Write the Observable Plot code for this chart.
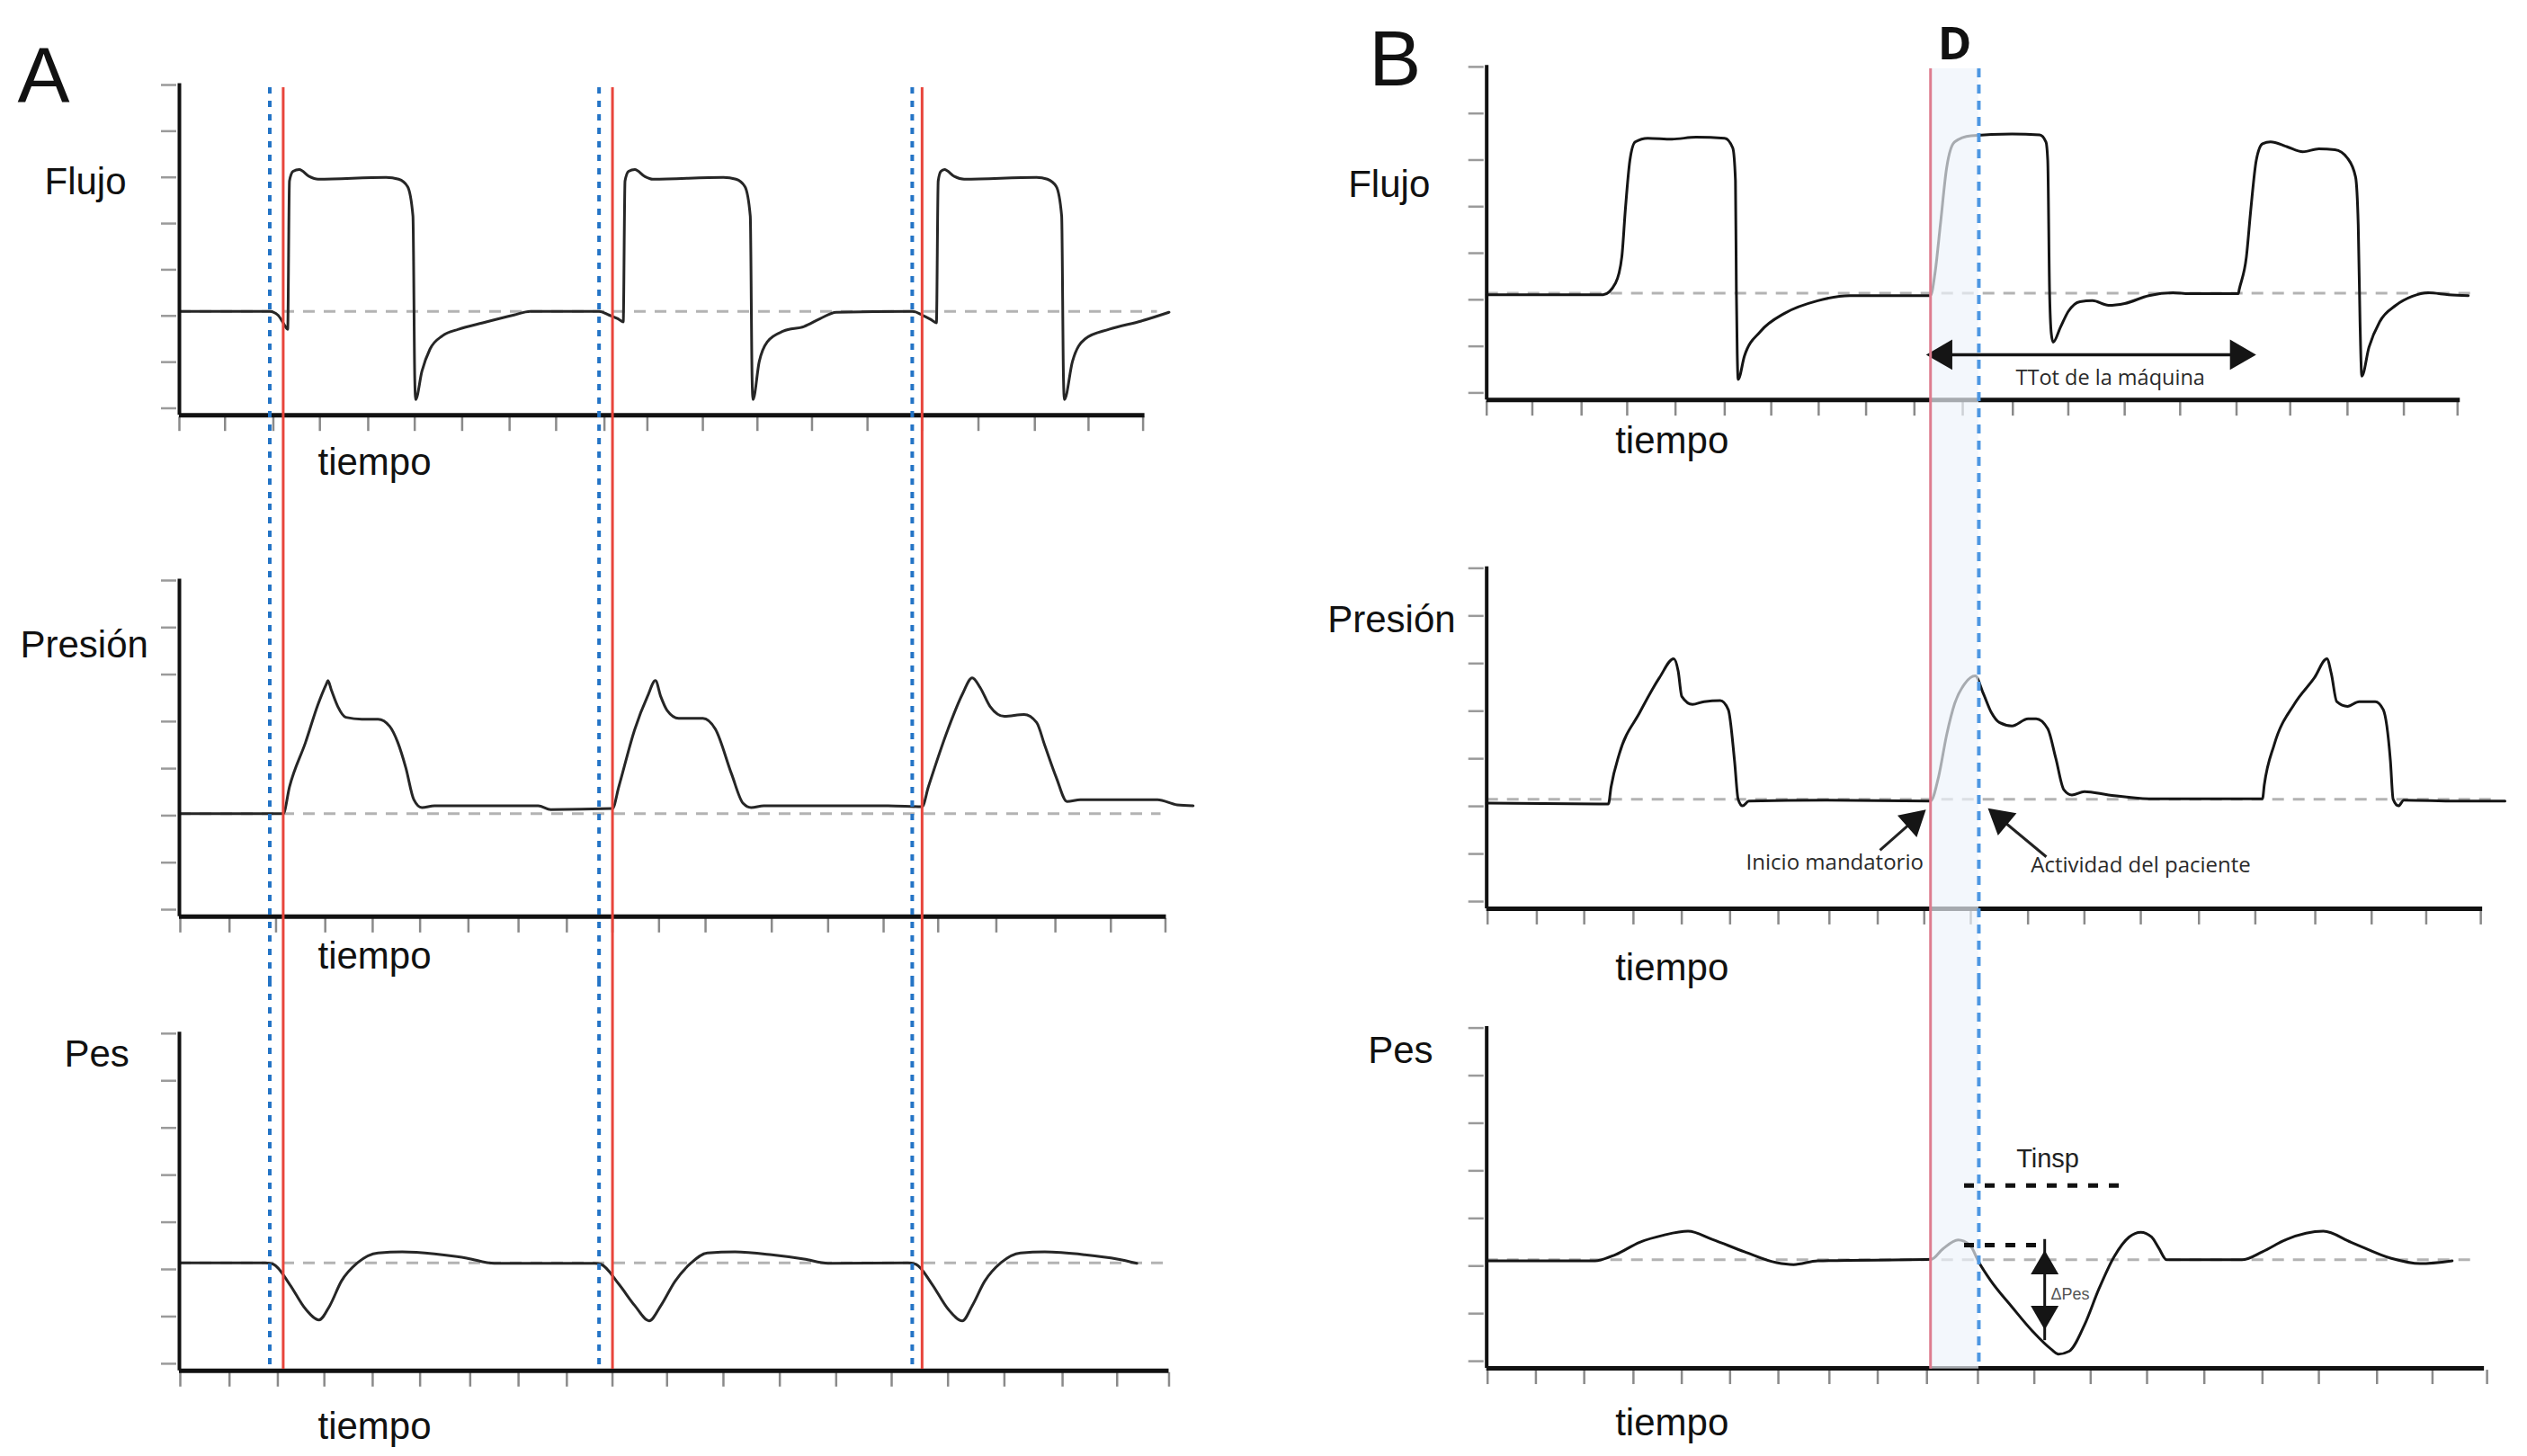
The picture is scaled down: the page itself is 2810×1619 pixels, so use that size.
<!DOCTYPE html>
<html><head><meta charset="utf-8">
<script src="https://cdn.jsdelivr.net/npm/d3@7"></script>
<script src="https://cdn.jsdelivr.net/npm/@observablehq/plot@0.6"></script>
<style>
html,body{margin:0;padding:0;background:#fff;}
#fig{position:relative;width:2810px;height:1619px;background:#fff;overflow:hidden;}
#fig > div{position:absolute;}
#fig svg{display:block;}
</style></head>
<body><div id="fig"></div>
<script>
// ---------- DATA (tiempo en unidades arbitrarias, valores en unidades de trazo) ----------
const yTicks = [0, 10, 20, 30, 40, 50, 60, 70];

// Panel A
const flujoA = [
  [0,21],[101,21],[110,20.2],[116,18.5],[121,17.1],[123,49.2],[127,51.3],[134,51.7],[145,50.2],[155,49.6],[231,50.0],[245,49.6],[255,48.0],[261,41.6],[263,6.6],[264,1.9],[271,8.0],[280,12.8],[294,15.7],[312,17.1],[339,18.5],[374,20.2],[392,21],[469,21],
  [480,20.2],[490,19.4],[496,18.7],[498,49.2],[502,51.3],[509,51.7],[520,50.2],[529,49.6],[608,50.0],[622,49.6],[632,48.0],[638,41.6],[640,6.6],[641,1.9],[648,10.1],[657,14.4],[675,16.7],[698,17.7],[716,19.4],[734,20.8],[819,21],
  [830,20.2],[840,19.2],[846,18.5],[848,49.2],[851,51.3],[855,51.7],[866,50.2],[877,49.6],[958,50.0],[970,49.6],[980,48.0],[986,41.6],[988,6.6],[989,1.9],[998,10.1],[1012,15.0],[1039,17.1],[1075,18.9],[1106,20.8]
];
const presionA = [
  [0,20.4],[116,20.4],[123,26.1],[141,35.6],[155,43.7],[164,47.9],[166,48.7],[170,46.6],[177,43.2],[186,40.9],[204,40.5],[222,40.5],[235,39.0],[244,35.6],[253,30.2],[262,23.4],[271,21.7],[285,22.1],[401,22.1],[415,21.3],[484,21.5],
  [491,26.1],[509,38.4],[523,45.3],[532,48.7],[538,45.3],[545,42.4],[558,40.7],[585,40.7],[599,38.4],[617,28.9],[630,22.6],[639,21.7],[653,22.1],[792,22.1],[830,21.9],
  [837,26.1],[859,38.4],[875,45.8],[886,49.3],[895,47.2],[906,43.2],[922,41.1],[944,41.5],[958,39.8],[967,35.0],[980,28.1],[992,23.0],[1007,23.4],[1093,23.4],[1115,22.3],[1133,22.1]
];
const pesA = [
  [0,21.4],[96,21.4],[105,21.1],[123,16.9],[141,11.6],[156,9.3],[168,12.3],[181,17.5],[199,21.4],[222,23.5],[249,23.7],[285,23.3],[321,22.4],[352,21.3],[464,21.3],
  [471,21.1],[491,16.9],[509,12.3],[525,9.1],[538,12.3],[554,17.5],[572,21.4],[590,23.5],[621,23.7],[662,23.1],[698,22.2],[725,21.3],[814,21.4],
  [823,21.1],[841,16.9],[859,11.6],[875,9.1],[886,12.3],[900,17.5],[918,21.4],[940,23.5],[967,23.7],[1012,23.1],[1048,22.2],[1070,21.3]
];
const esfuerzoA = [101, 469, 819];   // línea azul discontinua
const disparoA = [116, 484, 830];    // línea roja
const ticksFlujoA = [0,51,105,157,211,263,316,369,421,475,523,585,646,707,769,830,893,956,1016,1077];
const ticksPresionA = [1,56,108,163,216,269,323,379,433,484,536,588,662,725,787,848,913,979,1041,1102];
const ticksPesA = [1,56,110,162,216,269,325,379,433,484,545,608,671,734,796,859,922,987,1048,1106];

// Panel B
const flujoB = [
  [0,21.1],[130,21.1],[144,23.6],[151,29.2],[155,39.5],[160,49.9],[166,53.9],[180,54.7],[207,54.5],[234,54.9],[266,54.7],[275,52.6],[278,45.6],[279,22.2],[280,8.4],[281,2.9],[288,7.9],[306,13.2],[333,17.1],[370,19.8],[406,20.9],[496,20.9],
  [501,25.7],[507,36.1],[514,48.3],[523,53.9],[541,55.2],[587,55.6],[618,55.4],[625,53.9],[627,49.9],[629,22.2],[631,12.7],[633,10.9],[641,14.0],[650,17.5],[663,19.6],[677,19.8],[695,18.8],[713,19.2],[740,20.9],[767,21.5],[785,21.3],[840,21.3],
  [841,22.2],[849,29.2],[854,39.5],[860,49.9],[867,53.5],[876,53.9],[894,52.9],[912,51.8],[930,52.4],[948,52.2],[962,50.4],[971,46.4],[974,36.1],[976,15.3],[978,3.6],[986,9.8],[998,15.3],[1016,18.8],[1034,20.7],[1052,21.5],[1075,21.1],[1097,20.9]
];
const presionB = [
  [0,20.7],[136,20.5],[139,24.1],[148,30.9],[171,39.7],[193,47.0],[209,51.0],[214,48.4],[218,43.1],[230,41.4],[243,42.0],[261,42.2],[270,40.3],[277,29.5],[281,21.5],[286,20.1],[293,21.1],[379,21.3],[496,21.1],
  [505,26.2],[514,35.0],[523,41.6],[534,45.7],[546,47.4],[555,43.7],[564,39.7],[573,37.6],[587,36.9],[605,38.4],[614,38.4],[627,36.3],[636,30.1],[645,23.5],[654,22.4],[668,23.1],[695,22.4],[740,21.6],[867,21.6],
  [869,24.5],[880,32.9],[903,41.6],[925,47.0],[939,51.0],[944,47.8],[950,42.0],[962,41.0],[975,42.0],[993,42.0],[1002,40.3],[1010,29.5],[1013,21.5],[1019,20.1],[1025,21.3],[1084,21.1],[1138,21.1]
];
const pesB = [
  [0,21.1],[121,21.1],[144,22.4],[171,25.0],[198,26.5],[225,27.3],[252,25.6],[288,23.0],[324,20.7],[343,20.3],[370,21.1],[496.8,21.4],
  [509.8,23.6],[526.9,25.5],[540,24.4],[550,20.8],[563,17.0],[587,11.4],[610,6.3],[631,2.5],[639,1.5],[651,2.1],[668,7.6],[684,15.1],[701,21.9],[718,26.1],[731,27.1],[743,26.1],[751,23.8],[760,21.3],[844,21.3],
  [867,23.0],[894,25.6],[935,27.3],[966,25.0],[1011,21.6],[1043,20.5],[1079,21.1]
];
const bandaB = {desde: 496, hasta: 550, etiqueta: "D"};
const ticksFlujoB = [0,51,106,157,211,266,318,371,424,478,532,588,650,713,775,838,898,962,1025,1085];
const ticksPresionB = [1,56,109,164,218,272,326,383,437,489,541,605,668,731,796,859,926,989,1050,1111];
const ticksPesB = [1,55,109,164,218,272,326,383,437,492,549,612,675,738,802,867,930,995,1057,1118];

const ttot = {desde: 491, hasta: 860, nivel: 8.2, texto: "TTot de la máquina", tx: 697, ty: 3.2};
const flechasPresion = [
  {texto: "Inicio mandatorio", cola: [439.5, 10.8], punta: [490.8, 19.3], tx: 389, ty: 8.1},
  {texto: "Actividad del paciente", cola: [625.4, 9.4], punta: [560.1, 19.6], tx: 731, ty: 7.5}
];
const tinsp = {texto: "Tinsp", tx: 627, ty: 42.4, linea1: [534, 713, 36.9], linea2: [534, 616, 24.4]};
const deltaPes = {texto: "ΔPes", x: 623.6, arriba: 23.3, abajo: 6.6, tx: 652, ty: 14.0};

// ---------- LAYOUT ----------
const ejeBajo = -1.5;
const cols = {
  A: {left: 0, width: 1400, mL: 199, mR: 106.5},
  B: {left: 1400, width: 1410, mL: 252.7, mR: 62.8}
};
const rows = {
  A: [{top:0,h:560,mT:94,mB:106.5,vTop:3,vBot:-106.5},{top:560,h:530,mT:85,mB:79,vTop:-85,vBot:-79},{top:1090,h:529,mT:58.8,mB:103.1,vTop:-58.8,vBot:-6.1}],
  B: [{top:0,h:560,mT:73.9,mB:123.6,vTop:2,vBot:-123.6},{top:560,h:530,mT:71.4,mB:88,vTop:-71.4,vBot:-88},{top:1090,h:529,mT:52.6,mB:105.9,vTop:-52.6,vBot:-8.6}]
};
const SANS = "'Liberation Sans', Arial, Helvetica, sans-serif";
const HUM = "'Open Sans', 'Noto Sans', sans-serif";
const fig = document.getElementById("fig");

function arrowHead(pt, rot, r, dx, dy) {
  return Plot.dot([pt], {x: d => d[0], y: d => d[1], symbol: "triangle", r, rotate: rot, fill: "#151515", stroke: "none", dx, dy});
}

function panel(col, row, cfg) {
  const C = cols[col], R = rows[col][row];
  const marks = [];
  marks.push(Plot.ruleY([cfg.base], {x1: 0, x2: cfg.baseEnd, stroke: "#b3b3b3", strokeWidth: 3, strokeDasharray: "13,10"}));
  marks.push(Plot.line(cfg.serie, {x: d => d[0], y: d => d[1], curve: "monotone-x", stroke: cfg.lineColor, strokeWidth: 3, strokeLinejoin: "round"}));
  marks.push(Plot.ruleY(yTicks, {y: d => d, x1: 0, x2: 0, insetLeft: -20, insetRight: 3, stroke: "#9a9a9a", strokeWidth: 2.5}));
  marks.push(Plot.ruleX(cfg.ticks, {x: d => d, y1: ejeBajo, y2: ejeBajo, insetTop: 2, insetBottom: -18, stroke: "#8a8a8a", strokeWidth: 2.5}));
  marks.push(Plot.ruleX([0], {y1: ejeBajo, y2: 70.3, stroke: "#111", strokeWidth: 4}));
  marks.push(Plot.ruleY([ejeBajo], {x1: 0, x2: cfg.axisEnd, stroke: "#111", strokeWidth: 5}));
  // labels
  marks.push(Plot.text([cfg.label], {text: d => d, frameAnchor: "top-left", dx: cfg.lx, dy: cfg.ly, textAnchor: "start", lineAnchor: "middle", fontSize: 42, fontFamily: SANS, fill: "#111"}));
  marks.push(Plot.text(["tiempo"], {text: d => d, frameAnchor: "bottom-left", dx: cfg.tx, dy: cfg.ty, textAnchor: "start", lineAnchor: "middle", fontSize: 42, fontFamily: SANS, fill: "#111"}));
  if (cfg.letter) marks.push(Plot.text([cfg.letter], {text: d => d, frameAnchor: "top-left", dx: cfg.letter_dx, dy: cfg.letter_dy, textAnchor: "middle", lineAnchor: "middle", fontSize: 87, fontFamily: SANS, fill: "#111"}));
  if (col === "A") {
    marks.push(Plot.ruleX(disparoA, {x: d => d, stroke: "#e8453c", strokeWidth: 3, insetTop: R.vTop, insetBottom: R.vBot}));
    marks.push(Plot.ruleX(esfuerzoA, {x: d => d, stroke: "#2474c6", strokeWidth: 4, strokeDasharray: "7,8", insetTop: R.vTop, insetBottom: R.vBot}));
  } else {
    marks.push(Plot.rect([bandaB], {x1: d => d.desde, x2: d => d.hasta, fill: "#eef3fb", fillOpacity: 0.68, insetTop: R.vTop, insetBottom: R.vBot}));
    if (cfg.extra) marks.push(...cfg.extra);
    marks.push(Plot.ruleX([bandaB.desde], {x: d => d, stroke: "#de7d8f", strokeWidth: 3, insetTop: R.vTop, insetBottom: R.vBot}));
    marks.push(Plot.ruleX([bandaB.hasta], {x: d => d, stroke: "#4d97e2", strokeWidth: 4, strokeDasharray: "10,8", insetTop: R.vTop, insetBottom: R.vBot}));
  }
  const svg = Plot.plot({
    width: C.width, height: R.h,
    marginLeft: C.mL, marginRight: C.mR, marginTop: R.mT, marginBottom: R.mB,
    x: {domain: [0, 1100], axis: null},
    y: {domain: [0, 70], axis: null},
    style: {background: "transparent", maxWidth: "none", overflow: "visible"},
    marks
  });
  const div = document.createElement("div");
  div.style.left = C.left + "px";
  div.style.top = R.top + "px";
  div.style.width = C.width + "px";
  div.style.height = R.h + "px";
  div.appendChild(svg);
  fig.appendChild(div);
}

// ---------- PANEL A ----------
panel("A", 0, {serie: flujoA, base: 21, baseEnd: 1093, ticks: ticksFlujoA, axisEnd: 1079, lineColor: "#262626",
  label: "Flujo", lx: -150, ly: 108, tx: 154, ty: 61, letter: "A", letter_dx: -151, letter_dy: -8});
panel("A", 1, {serie: presionA, base: 20.4, baseEnd: 1097, ticks: ticksPresionA, axisEnd: 1103, lineColor: "#262626",
  label: "Presión", lx: -177, ly: 72, tx: 154, ty: 52});
panel("A", 2, {serie: pesA, base: 21.4, baseEnd: 1106, ticks: ticksPesA, axisEnd: 1106, lineColor: "#262626",
  label: "Pes", lx: -128, ly: 23, tx: 154, ty: 70});

// ---------- PANEL B ----------
const extraB0 = [
  Plot.ruleY([ttot], {x1: d => d.desde, x2: d => d.hasta, y: d => d.nivel, stroke: "#151515", strokeWidth: 3.5, insetLeft: 12, insetRight: 12}),
  arrowHead([ttot.desde, ttot.nivel], -90, 12.5, 19.5, 0),
  arrowHead([ttot.hasta, ttot.nivel], 90, 12.5, -19.5, 0),
  Plot.text([ttot], {x: d => d.tx, y: d => d.ty, text: d => d.texto, fontSize: 23.5, fontFamily: HUM, fill: "#2a2a2a", lineAnchor: "middle"}),
  Plot.text([bandaB], {x: d => (d.desde + d.hasta) / 2, frameAnchor: "top", dy: -25, text: d => d.etiqueta, fontSize: 51, fontWeight: "bold", fontFamily: HUM, fill: "#111", lineAnchor: "middle"})
];
panel("B", 0, {serie: flujoB, base: 21.4, baseEnd: 1102, ticks: ticksFlujoB, axisEnd: 1088, lineColor: "#151515",
  label: "Flujo", lx: -154, ly: 131, tx: 143, ty: 54, letter: "B", letter_dx: -102, letter_dy: -7, extra: extraB0});

const extraB1 = [];
for (const f of flechasPresion) {
  const end = [f.cola[0] + 0.75 * (f.punta[0] - f.cola[0]), f.cola[1] + 0.75 * (f.punta[1] - f.cola[1])];
  extraB1.push(Plot.link([f], {x1: d => d.cola[0], y1: d => d.cola[1], x2: () => end[0], y2: () => end[1], stroke: "#222", strokeWidth: 3}));
  extraB1.push(Plot.text([f], {x: d => d.tx, y: d => d.ty, text: d => d.texto, fontSize: 24, fontFamily: HUM, fill: "#2a2a2a", lineAnchor: "middle"}));
}
extraB1.push(arrowHead(flechasPresion[0].punta, 48.6, 12, -13.9, 12.3));
extraB1.push(arrowHead(flechasPresion[1].punta, -50.3, 12, 14.4, 11.9));
panel("B", 1, {serie: presionB, base: 21.5, baseEnd: 1130, ticks: ticksPresionB, axisEnd: 1113, lineColor: "#151515",
  label: "Presión", lx: -177, ly: 58, tx: 143, ty: 74, extra: extraB1});

const extraB2 = [
  Plot.ruleY([tinsp.linea1], {x1: d => d[0], x2: d => d[1], y: d => d[2], stroke: "#111", strokeWidth: 5, strokeDasharray: "11,12"}),
  Plot.ruleY([tinsp.linea2], {x1: d => d[0], x2: d => d[1], y: d => d[2], stroke: "#111", strokeWidth: 5, strokeDasharray: "11,12"}),
  Plot.text([tinsp], {x: d => d.tx, y: d => d.ty, text: d => d.texto, fontSize: 29, fontFamily: SANS, fill: "#222", lineAnchor: "middle"}),
  Plot.ruleX([deltaPes], {x: d => d.x, y1: d => d.abajo, y2: d => d.arriba, stroke: "#151515", strokeWidth: 3, insetTop: 12, insetBottom: 12}),
  arrowHead([deltaPes.x, deltaPes.arriba], 0, 11.5, 0, 17.8),
  arrowHead([deltaPes.x, deltaPes.abajo], 180, 11.5, 0, -17.8),
  Plot.text([deltaPes], {x: d => d.tx, y: d => d.ty, text: d => d.texto, fontSize: 18, fontFamily: SANS, fill: "#555", lineAnchor: "middle"})
];
panel("B", 2, {serie: pesB, base: 21.3, baseEnd: 1106, ticks: ticksPesB, axisEnd: 1115, lineColor: "#151515",
  label: "Pes", lx: -132, ly: 25, tx: 143, ty: 69, extra: extraB2});
</script>
</body></html>
